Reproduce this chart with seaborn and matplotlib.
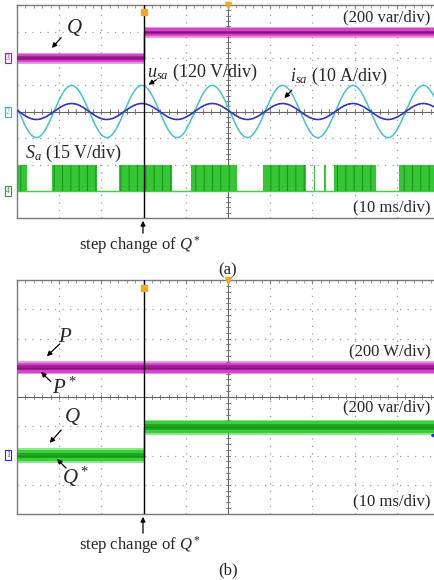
import numpy as np
import pandas as pd
import matplotlib
matplotlib.use("Agg")
import matplotlib.pyplot as plt
import seaborn as sns

# ---------------- data (x: ms, y: screen divisions) ----------------
time_window = [-50.0, 50.0]            # 10 ms/div, 10 divisions
step_time = -20.0                      # step change of Q*

# panel (a)
q_a_levels = [2.0, 2.97]               # Q before / after the step
q_a_noise = 0.2                        # half-width of the noise band
u_sa_amp, u_sa_period, u_sa_peak = 0.98, 16.67, -20.4
i_sa_amp, i_sa_period, i_sa_peak = 0.30, 16.67, -20.4
sa_low, sa_high = -3.0, -2.0
sa_switch_start = [-50.0, -41.6, -25.8, -8.8, 8.4, 20.3, 22.8, 25.0, 40.6]
sa_switch_end = [-47.7, -31.0, -13.3, 2.1, 18.6, 20.7, 23.2, 35.0, 50.0]

# panel (b)
p_b_level, p_b_noise = 1.0, 0.22
q_b_levels, q_b_noise = [-2.0, -1.03], 0.26

# ---------------- style ----------------
sns.set_style("white")
plt.rcParams["font.family"] = ["Liberation Serif", "DejaVu Serif"]
plt.rcParams["mathtext.fontset"] = "custom"
plt.rcParams["mathtext.rm"] = "Liberation Serif"
plt.rcParams["mathtext.it"] = "Liberation Serif:italic"
plt.rcParams["hatch.linewidth"] = 0.8

W, H = 434, 580
fig = plt.figure(figsize=(W / 100, H / 100), dpi=100)


def fx(x):
    return x / W


def fy(y):
    return 1 - y / H


ax_a = fig.add_axes([fx(17), fy(218), fx(439 - 17), (218 - 5) / H])
ax_b = fig.add_axes([fx(17), fy(514), fx(439 - 17), (514 - 280) / H])

GRID = "#9c9c9c"


def scope_screen(ax):
    ax.set_xlim(*time_window)
    ax.set_ylim(-4, 4)
    for s in ax.spines.values():
        s.set_color("#7a7a7a")
        s.set_linewidth(1.0)
    ax.set_xticks(np.arange(-50, 51, 10))
    ax.set_yticks(np.arange(-4, 5, 1))
    ax.set_xticks(np.arange(-50, 51, 2), minor=True)
    ax.set_yticks(np.arange(-4, 4.01, 0.2), minor=True)
    ax.tick_params(which="both", direction="in", top=True, right=True,
                   labelbottom=False, labelleft=False, color="#8a8a8a")
    ax.tick_params(which="major", length=3, width=0.8)
    ax.tick_params(which="minor", length=2, width=0.6)
    for xv in np.arange(-40, 50, 10):
        if xv != 0:
            ax.axvline(xv, color=GRID, lw=0.9, ls=(0, (1, 5)), zorder=0)
    for yv in np.arange(-3, 4, 1):
        if yv != 0:
            ax.axhline(yv, color=GRID, lw=0.9, ls=(0, (1, 5)), zorder=0)
    ax.axhline(0, color="#666666", lw=0.8, zorder=0)
    ax.axvline(0, color="#666666", lw=0.8, zorder=0)
    for xv in np.arange(-50, 50.1, 2):
        ax.plot([xv, xv], [-0.08, 0.08], color="#666666", lw=0.6, zorder=0)
    for yv in np.arange(-4, 4.01, 0.2):
        ax.plot([-0.45, 0.45], [yv, yv], color="#666666", lw=0.6, zorder=0)
    ax.axvline(step_time, color="black", lw=1.0, zorder=5)
    # trigger markers
    ax.plot([step_time], [3.72], marker="s", ms=5, color="#f5a623", clip_on=False, zorder=6)
    ax.plot([0], [4.0], marker="v", ms=5, color="#f5a623", clip_on=False, zorder=6)


def noisy_band(ax, levels, noise, outer, inner):
    xs = [time_window[0], step_time, step_time, time_window[1]]
    ys = np.array([levels[0], levels[0], levels[-1], levels[-1]])
    ax.fill_between(xs, ys - noise, ys + noise, color=outer, lw=0, zorder=2, alpha=0.55)
    ax.fill_between(xs, ys - noise * 0.75, ys + noise * 0.75, color=outer, lw=0, zorder=2)
    ax.fill_between(xs, ys - noise * 0.35, ys + noise * 0.35, color=inner, lw=0, zorder=3, alpha=0.7)
    df = pd.DataFrame({"t": xs, "v": ys})
    sns.lineplot(data=df, x="t", y="v", ax=ax, estimator=None, sort=False,
                 color=inner, lw=1.0, zorder=4)


scope_screen(ax_a)
scope_screen(ax_b)

# ---------------- panel (a) ----------------
t = np.linspace(time_window[0], time_window[1], 3000)
u = u_sa_amp * np.cos(2 * np.pi * (t - u_sa_peak) / u_sa_period)
i = i_sa_amp * np.cos(2 * np.pi * (t - i_sa_peak) / i_sa_period)
wave = pd.DataFrame({"t": t, "u": u, "i": i})
sns.lineplot(data=wave, x="t", y="u", ax=ax_a, color="#45c3c8", lw=1.1, zorder=3)
sns.lineplot(data=wave, x="t", y="i", ax=ax_a, color="#3434b4", lw=1.2, zorder=3)

noisy_band(ax_a, q_a_levels, q_a_noise, "#d445cc", "#8e1080")

ax_a.axhline(sa_low, color="#40d040", lw=1.0, zorder=2)
for s, e in zip(sa_switch_start, sa_switch_end):
    ax_a.fill_between([s, e], sa_low, sa_high, color="#34c634", lw=0, zorder=2,
                      hatch="||", edgecolor="#1a951c")

ax_a.set_xlabel("")
ax_a.set_ylabel("")
ax_b.set_xlabel("")
ax_b.set_ylabel("")

fs = 12
ax_a.text(47.9, 3.55, "(200 var/div)", ha="right", va="center", fontsize=fs, zorder=8)
ax_a.text(-36.5, 3.15, "$Q$", ha="center", va="center", fontsize=15, zorder=8)
ax_a.annotate("", xy=(-42.2, 2.31), xytext=(-39.1, 2.85),
              arrowprops=dict(arrowstyle="-|>", color="black", lw=0.9, mutation_scale=7))
ax_a.text(-19.3, 1.48, "$u_{sa}$ (120 V/div)", ha="left", va="center", fontsize=13, zorder=8)
ax_a.annotate("", xy=(-19.4, 0.95), xytext=(-16.4, 1.25),
              arrowprops=dict(arrowstyle="-|>", color="black", lw=0.9, mutation_scale=7))
ax_a.text(14.6, 1.30, "$i_{sa}$ (10 A/div)", ha="left", va="center", fontsize=13, zorder=8)
ax_a.annotate("", xy=(12.9, 0.43), xytext=(15.6, 0.88),
              arrowprops=dict(arrowstyle="-|>", color="black", lw=0.9, mutation_scale=7))
ax_a.text(-48.2, -1.56, "$S_a$ (15 V/div)", ha="left", va="center", fontsize=13, zorder=8)
ax_a.text(47.9, -3.59, "(10 ms/div)", ha="right", va="center", fontsize=fs, zorder=8)

# ---------------- panel (b) ----------------
noisy_band(ax_b, [p_b_level, p_b_level], p_b_noise, "#d445cc", "#8e1080")
noisy_band(ax_b, q_b_levels, q_b_noise, "#38d038", "#179517")

ax_b.text(-38.6, 2.05, "$P$", ha="center", va="center", fontsize=15, zorder=8)
ax_b.annotate("", xy=(-43.4, 1.33), xytext=(-39.4, 1.88),
              arrowprops=dict(arrowstyle="-|>", color="black", lw=0.9, mutation_scale=7))
ax_b.text(-38.8, 0.30, "$P^*$", ha="center", va="center", fontsize=15, zorder=8)
ax_b.annotate("", xy=(-44.8, 0.92), xytext=(-41.5, 0.46),
              arrowprops=dict(arrowstyle="-|>", color="black", lw=0.9, mutation_scale=7))
ax_b.text(47.9, 1.57, "(200 W/div)", ha="right", va="center", fontsize=fs, zorder=8)
ax_b.text(47.9, -0.34, "(200 var/div)", ha="right", va="center", fontsize=fs, zorder=8)
ax_b.text(-37.0, -0.66, "$Q$", ha="center", va="center", fontsize=15, zorder=8)
ax_b.annotate("", xy=(-42.7, -1.64), xytext=(-39.1, -1.06),
              arrowprops=dict(arrowstyle="-|>", color="black", lw=0.9, mutation_scale=7))
ax_b.text(-36.0, -2.72, "$Q^*$", ha="center", va="center", fontsize=15, zorder=8)
ax_b.annotate("", xy=(-41.0, -2.05), xytext=(-37.9, -2.5),
              arrowprops=dict(arrowstyle="-|>", color="black", lw=0.9, mutation_scale=7))
ax_b.text(47.9, -3.56, "(10 ms/div)", ha="right", va="center", fontsize=fs, zorder=8)
ax_b.plot([48.8], [-1.3], marker="<", ms=4, color="#2020e0", clip_on=False, zorder=6)

# ---------------- channel markers ----------------
def chan(x, y, label, color):
    fig.text(fx(x), fy(y), label, ha="center", va="center", fontsize=5.5, color=color,
             bbox=dict(boxstyle="square,pad=0.15", fc="white", ec=color, lw=0.8))

chan(8, 58, "3", "#b0189f")
chan(8, 112, "2", "#30b8c0")
chan(8, 191, "4", "#22a822")
chan(8, 455, "1", "#2828d0")

# ---------------- outside annotations ----------------
for y_txt, y_tip, y_cap, cap in [(245, 218, 270, "(a)"), (545, 514, 570, "(b)")]:
    fig.text(fx(140), fy(y_txt), "step change of $Q^*$", ha="center", va="center", fontsize=fs)
    fig.text(fx(228), fy(y_cap), cap, ha="center", va="center", fontsize=fs)
    fig.add_artist(matplotlib.patches.FancyArrowPatch(
        (fx(143), fy(y_txt - 9)), (fx(143), fy(y_tip)), transform=fig.transFigure,
        arrowstyle="-|>", mutation_scale=7, color="black", lw=0.9))

fig.savefig("out.png", dpi=100)
